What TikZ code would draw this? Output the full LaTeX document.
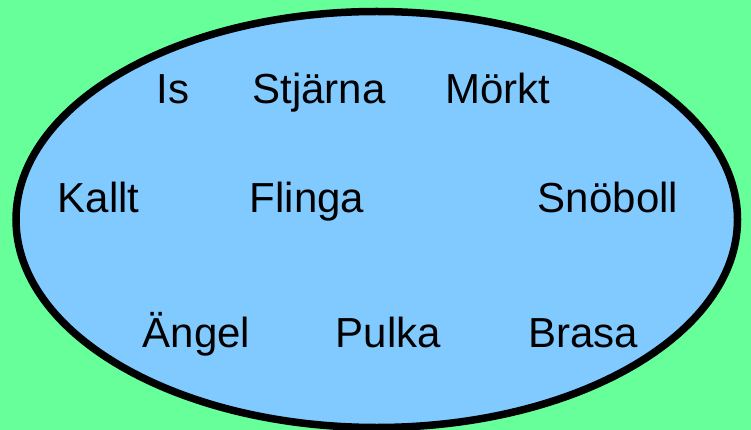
\documentclass[tikz,border=0pt]{standalone}
\usepackage{fontspec}
\setmainfont{Liberation Sans}
\definecolor{bggreen}{RGB}{102,255,153}
\definecolor{setblue}{RGB}{128,202,255}

\begin{document}
\begin{tikzpicture}[x=1pt,y=-1pt,
		word/.style={anchor=base,inner sep=0pt,font=\fontsize{42}{50}\selectfont}]
			\useasboundingbox (0,0) rectangle (751,430);
			\clip (0,0) rectangle (751,430);
			\fill[bggreen] (0,0) rectangle (751,430);
			\draw[line width=7.5pt,fill=setblue] (376.75,219.5) ellipse [x radius=360.75,y radius=208];
			\foreach \n/\x/\y/\t in {is/173/104/Is,stj/319/104/Stjärna,mor/498/104/Mörkt,
				kal/98.5/212/Kallt,fli/307/212/Flinga,sno/608/212/Snöboll,
				ang/196.5/347/Ängel,pul/388.5/347/Pulka,bra/583/347/Brasa}{
				\node[word] (\n) at (\x,\y) {\t};
			}
		\end{tikzpicture}
\end{document}
